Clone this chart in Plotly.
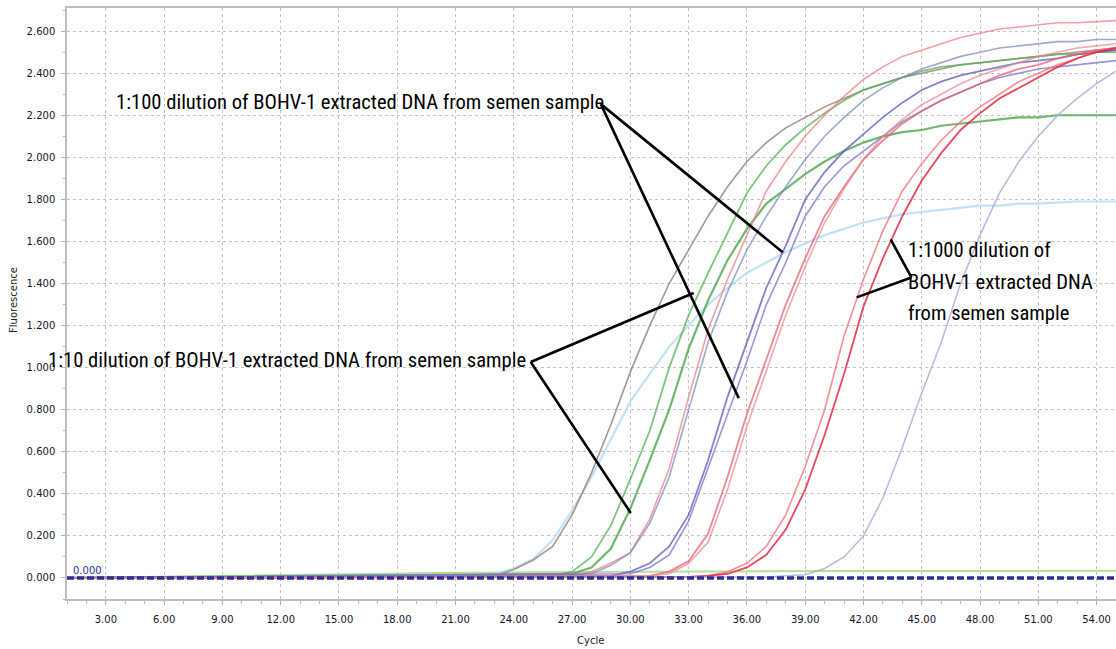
import plotly.graph_objects as go

# ---------------- data ----------------
x_ticks_major = [3, 6, 9, 12, 15, 18, 21, 24, 27, 30, 33, 36, 39, 42, 45, 48, 51, 54]

# amplification curves: first cycle of the listed values, then one value per cycle up to 55
brown_start = 22
brown_vals = [0.005, 0.01, 0.04, 0.085, 0.15, 0.30, 0.50, 0.73, 0.98, 1.20, 1.40, 1.56, 1.72, 1.86,
              1.98, 2.07, 2.14, 2.19, 2.24, 2.28, 2.32, 2.35, 2.38, 2.40, 2.42, 2.44, 2.45, 2.46,
              2.47, 2.48, 2.49, 2.50, 2.51, 2.51]

lightblue_start = 22
lightblue_vals = [0.008, 0.02, 0.045, 0.09, 0.18, 0.32, 0.48, 0.66, 0.84, 0.97, 1.10, 1.20, 1.30,
                  1.38, 1.45, 1.50, 1.55, 1.59, 1.63, 1.66, 1.69, 1.71, 1.73, 1.74, 1.75, 1.76,
                  1.77, 1.77, 1.78, 1.78, 1.785, 1.79, 1.79, 1.79]

green1_start = 26
green1_vals = [0.01, 0.03, 0.10, 0.25, 0.47, 0.70, 1.00, 1.25, 1.45, 1.64, 1.83, 1.96, 2.06, 2.14,
               2.21, 2.27, 2.32, 2.35, 2.38, 2.41, 2.43, 2.44, 2.45, 2.46, 2.47, 2.48, 2.49, 2.49,
               2.50, 2.50]

green2_start = 27
green2_vals = [0.02, 0.05, 0.14, 0.33, 0.56, 0.80, 1.09, 1.32, 1.51, 1.66, 1.78, 1.85, 1.92, 1.98,
               2.03, 2.07, 2.10, 2.12, 2.13, 2.15, 2.16, 2.17, 2.18, 2.19, 2.19, 2.20, 2.20, 2.20,
               2.20]

pink_start = 27
pink_vals = [0.01, 0.03, 0.07, 0.12, 0.28, 0.52, 0.86, 1.18, 1.42, 1.63, 1.84, 1.98, 2.10, 2.20,
             2.29, 2.37, 2.43, 2.48, 2.51, 2.54, 2.57, 2.59, 2.61, 2.62, 2.63, 2.64, 2.64, 2.645,
             2.65]

greyblue_start = 28
greyblue_vals = [0.02, 0.06, 0.12, 0.26, 0.48, 0.80, 1.12, 1.36, 1.56, 1.72, 1.86, 1.99, 2.10,
                 2.19, 2.27, 2.33, 2.38, 2.42, 2.45, 2.48, 2.50, 2.52, 2.53, 2.54, 2.55, 2.55,
                 2.56, 2.56]

blue1_start = 29
blue1_vals = [0.01, 0.03, 0.07, 0.15, 0.30, 0.56, 0.86, 1.12, 1.38, 1.58, 1.80, 1.93, 2.03, 2.11,
              2.19, 2.26, 2.32, 2.36, 2.39, 2.41, 2.43, 2.45, 2.46, 2.47, 2.49, 2.50, 2.51]

blue2_start = 30
blue2_vals = [0.02, 0.05, 0.11, 0.27, 0.52, 0.78, 1.03, 1.30, 1.50, 1.72, 1.86, 1.96, 2.03, 2.10,
              2.17, 2.22, 2.27, 2.31, 2.35, 2.38, 2.40, 2.42, 2.43, 2.44, 2.45, 2.46]

red1a_start = 31
red1a_vals = [0.01, 0.03, 0.08, 0.21, 0.48, 0.78, 1.04, 1.30, 1.52, 1.72, 1.86, 1.99, 2.08, 2.16,
              2.22, 2.27, 2.31, 2.35, 2.39, 2.42, 2.44, 2.47, 2.49, 2.51, 2.52]

red1b_start = 31
red1b_vals = [0.01, 0.02, 0.07, 0.17, 0.42, 0.72, 0.99, 1.25, 1.48, 1.69, 1.85, 1.99, 2.10, 2.18,
              2.25, 2.30, 2.35, 2.39, 2.42, 2.45, 2.48, 2.50, 2.52, 2.53, 2.54]

red2a_start = 33
red2a_vals = [0.005, 0.01, 0.03, 0.07, 0.15, 0.30, 0.53, 0.80, 1.15, 1.42, 1.65, 1.84, 1.97, 2.08,
              2.17, 2.24, 2.30, 2.36, 2.40, 2.44, 2.47, 2.51, 2.52]

red2b_start = 33
red2b_vals = [0.005, 0.01, 0.02, 0.05, 0.11, 0.23, 0.42, 0.68, 0.97, 1.29, 1.52, 1.72, 1.89, 2.02,
              2.13, 2.21, 2.28, 2.33, 2.38, 2.43, 2.47, 2.50, 2.52]

lavender_start = 37
lavender_vals = [0.005, 0.01, 0.015, 0.045, 0.10, 0.20, 0.38, 0.62, 0.88, 1.12, 1.40, 1.63, 1.83,
                 1.98, 2.10, 2.20, 2.28, 2.35, 2.41]

# nearly flat (negative) curve and the dashed baseline
flat_cycles = [1, 5, 8, 10, 13, 16, 20, 25, 30, 35, 40, 55]
flat_vals = [0.0, 0.005, 0.01, 0.013, 0.018, 0.021, 0.024, 0.027, 0.03, 0.032, 0.033, 0.034]
base_cycles = [1, 55]
base_vals = [0.0, 0.0]

# annotation texts
label_100 = "1:100 dilution of BOHV-1 extracted DNA from semen sample"
label_10 = "1:10 dilution of BOHV-1 extracted DNA from semen sample"
label_1000 = ["1:1000 dilution of", "BOHV-1 extracted DNA", "from semen sample"]

# ---------------- figure ----------------
fig = go.Figure()


def curve(start, vals, color, width=1.6):
    xs = [1] + list(range(start, start + len(vals)))
    ys = [0.0] + vals
    fig.add_trace(go.Scatter(x=xs, y=ys, mode="lines",
                             line=dict(color=color, width=width),
                             showlegend=False, hoverinfo="skip"))


fig.add_trace(go.Scatter(x=flat_cycles, y=flat_vals, mode="lines",
                         line=dict(color="rgba(170,215,140,0.85)", width=2),
                         showlegend=False, hoverinfo="skip"))
curve(lightblue_start, lightblue_vals, "rgba(185,222,245,0.9)", 2.2)
curve(brown_start, brown_vals, "rgba(150,130,125,0.85)", 1.6)
curve(green1_start, green1_vals, "rgba(85,175,85,0.75)", 1.8)
curve(green2_start, green2_vals, "rgba(75,165,75,0.8)", 2.2)
curve(pink_start, pink_vals, "rgba(238,125,135,0.75)", 1.6)
curve(greyblue_start, greyblue_vals, "rgba(125,140,195,0.75)", 1.6)
curve(blue1_start, blue1_vals, "rgba(95,85,185,0.75)", 1.8)
curve(blue2_start, blue2_vals, "rgba(115,115,205,0.75)", 1.6)
curve(red1a_start, red1a_vals, "rgba(228,95,115,0.75)", 1.8)
curve(red1b_start, red1b_vals, "rgba(238,130,140,0.7)", 1.6)
curve(red2a_start, red2a_vals, "rgba(240,115,125,0.8)", 1.6)
curve(red2b_start, red2b_vals, "rgba(228,40,65,0.85)", 1.8)
curve(lavender_start, lavender_vals, "rgba(170,170,222,0.85)", 1.5)

fig.add_trace(go.Scatter(x=base_cycles, y=base_vals, mode="lines",
                         line=dict(color="#2e2e8e", width=3.5, dash="7px,3px"),
                         showlegend=False, hoverinfo="skip"))

ann_font = dict(family="Liberation Sans Narrow, Arial Narrow, Roboto Condensed, Liberation Sans",
                size=20.6, color="black")
annotations = [
    dict(x=3.41, y=2.262, xref="x", yref="y", text=label_100, showarrow=False,
         xanchor="left", yanchor="middle", font=ann_font),
    dict(x=24.72, y=1.036, xref="x", yref="y", text=label_10, showarrow=False,
         xanchor="right", yanchor="middle", font=ann_font),
    dict(x=44.17, y=1.559, xref="x", yref="y", text=label_1000[0], showarrow=False,
         xanchor="left", yanchor="middle", font=ann_font),
    dict(x=44.17, y=1.407, xref="x", yref="y", text=label_1000[1], showarrow=False,
         xanchor="left", yanchor="middle", font=ann_font),
    dict(x=44.17, y=1.260, xref="x", yref="y", text=label_1000[2], showarrow=False,
         xanchor="left", yanchor="middle", font=ann_font),
    dict(x=1.22, y=0.035, xref="x", yref="y", text="0.000", showarrow=False,
         xanchor="left", yanchor="middle",
         font=dict(family="DejaVu Sans", size=10, color="#2e2ea0")),
    dict(x=-0.0505, y=0.506, xref="paper", yref="paper", text="Fluorescence", showarrow=False,
         textangle=-90, xanchor="center", yanchor="middle",
         font=dict(family="DejaVu Sans", size=10, color="#222")),
    dict(x=0.4986, y=-0.0694, xref="paper", yref="paper", text="Cycle", showarrow=False,
         xanchor="center", yanchor="middle",
         font=dict(family="DejaVu Sans", size=10, color="#222")),
]

pointer_lines = [
    ((28.48, 2.253), (37.84, 1.549)),
    ((28.48, 2.253), (35.58, 0.855)),
    ((24.87, 1.027), (33.26, 1.355)),
    ((24.87, 1.027), (30.02, 0.309)),
    ((43.40, 1.610), (44.47, 1.429)),
    ((44.47, 1.429), (41.65, 1.334)),
]
shapes = [dict(type="line", xref="x", yref="y", x0=a[0], y0=a[1], x1=b[0], y1=b[1],
               line=dict(color="black", width=2.6)) for a, b in pointer_lines]

tick_font = dict(family="DejaVu Sans", size=10, color="#15152a")
fig.update_layout(
    width=1116, height=649,
    margin=dict(l=67, r=0, t=8, b=50),
    plot_bgcolor="white", paper_bgcolor="white",
    annotations=annotations, shapes=shapes,
    xaxis=dict(range=[1, 55], tickmode="array", tickvals=x_ticks_major,
               ticktext=[f"{v:.2f}" for v in x_ticks_major],
               showgrid=True, gridcolor="#c4c4c4", griddash="dot", gridwidth=1,
               showline=True, linecolor="#bdbdbd", linewidth=1.5, mirror=True,
               ticks="outside", ticklen=4, tickcolor="#b0b0b0", ticklabelstandoff=6,
               minor=dict(dtick=1, tick0=1, ticks="outside", ticklen=3, tickcolor="#b8b8b8",
                          showgrid=False),
               tickfont=tick_font, zeroline=False),
    yaxis=dict(range=[-0.1, 2.71], dtick=0.2, tick0=0, tickformat=".3f",
               showgrid=True, gridcolor="#c4c4c4", griddash="dot", gridwidth=1,
               showline=True, linecolor="#bdbdbd", linewidth=1.5,
               ticks="outside", ticklen=4, tickcolor="#b0b0b0", ticklabelstandoff=4,
               minor=dict(dtick=0.1, ticks="outside", ticklen=2, tickcolor="#b8b8b8",
                          showgrid=False),
               tickfont=tick_font, zeroline=False),
)

fig.write_html(
    "out.html",
    config={"displayModeBar": False},
    post_script="document.body.style.margin='0';document.body.style.overflow='hidden';",
)
